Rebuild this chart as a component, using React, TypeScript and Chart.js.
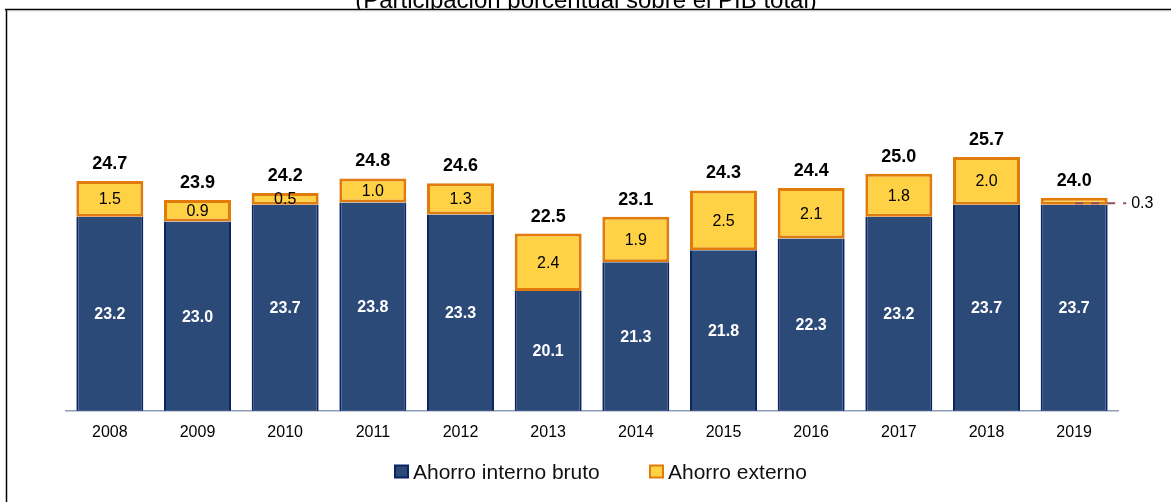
import React, { useEffect, useRef } from "react";
import { Chart, registerables } from "chart.js";

Chart.register(...registerables);

const years = ["2008", "2009", "2010", "2011", "2012", "2013", "2014", "2015", "2016", "2017", "2018", "2019"];
const ahorroInterno = [23.2, 23.0, 23.7, 23.8, 23.3, 20.1, 21.3, 21.8, 22.3, 23.2, 23.7, 23.7];
const ahorroExterno = [1.5, 0.9, 0.5, 1.0, 1.3, 2.4, 1.9, 2.5, 2.1, 1.8, 2.0, 0.3];
const totales = [24.7, 23.9, 24.2, 24.8, 24.6, 22.5, 23.1, 24.3, 24.4, 25.0, 25.7, 24.0];
const seriesNames = ["Ahorro interno bruto", "Ahorro externo"];
const titleText = "(Participación porcentual sobre el PIB total)";

const BLUE = "#2C4A77";
const BLUE_BORDER = "#0B2263";
const YELLOW = "#FFD145";
const ORANGE = "#E07B0C";
const FONT = "'Liberation Sans', Arial, sans-serif";

const framePlugin = {
  id: "frame",
  beforeDraw(chart: any) {
    const ctx = chart.ctx;
    ctx.save();
    ctx.fillStyle = "#000";
    ctx.font = `24px ${FONT}`;
    ctx.textAlign = "center";
    ctx.textBaseline = "alphabetic";
    ctx.fillText(titleText, 586, 8);
    ctx.fillStyle = "#fff";
    ctx.fillRect(6, 9, chart.width, chart.height);
    ctx.strokeStyle = "#000";
    ctx.lineWidth = 1.5;
    ctx.beginPath();
    ctx.moveTo(5, 9.5);
    ctx.lineTo(chart.width, 9.5);
    ctx.moveTo(6.5, 9);
    ctx.lineTo(6.5, chart.height);
    ctx.stroke();
    ctx.strokeStyle = "#C0C0C0";
    ctx.lineWidth = 1;
    ctx.beginPath();
    ctx.moveTo(7.5, 10.8);
    ctx.lineTo(chart.width, 10.8);
    ctx.stroke();
    ctx.restore();
  },
};

const labelsPlugin = {
  id: "barLabels",
  afterDatasetsDraw(chart: any) {
    const ctx = chart.ctx;
    const area = chart.chartArea;
    const m0 = chart.getDatasetMeta(0).data;
    const m1 = chart.getDatasetMeta(1).data;
    ctx.save();
    ctx.textAlign = "center";
    ctx.textBaseline = "middle";
    years.forEach((_, i) => {
      const b = m0[i];
      const top0 = b.y;
      const bot0 = Math.min(b.base, area.bottom);
      ctx.fillStyle = "#fff";
      ctx.font = `bold 16px ${FONT}`;
      ctx.fillText(ahorroInterno[i].toFixed(1), b.x, (top0 + bot0) / 2 + 1);

      const y = m1[i];
      const mid = (y.y + y.base) / 2;
      if (ahorroExterno[i] < 0.4) {
        ctx.strokeStyle = "#8E5060";
        ctx.lineWidth = 2;
        ctx.setLineDash([8, 8]);
        ctx.beginPath();
        ctx.moveTo(y.x + 1, mid + 2);
        ctx.lineTo(y.x + 52, mid + 2);
        ctx.stroke();
        ctx.setLineDash([]);
        ctx.fillStyle = "#000";
        ctx.font = `16px ${FONT}`;
        ctx.textAlign = "left";
        ctx.fillText(ahorroExterno[i].toFixed(1), y.x + 57, mid + 2);
        ctx.textAlign = "center";
      } else {
        ctx.fillStyle = "#000";
        ctx.font = `16px ${FONT}`;
        ctx.fillText(ahorroExterno[i].toFixed(1), y.x, mid + 1);
      }
      ctx.fillStyle = "#000";
      ctx.font = `bold 18px ${FONT}`;
      ctx.fillText(totales[i].toFixed(1), y.x, y.y - 17);
    });
    ctx.restore();
  },
  afterDraw(chart: any) {
    const ctx = chart.ctx;
    ctx.save();
    const items = [
      { x: 395, fill: BLUE, stroke: BLUE_BORDER, text: seriesNames[0] },
      { x: 650, fill: YELLOW, stroke: ORANGE, text: seriesNames[1] },
    ];
    items.forEach((it) => {
      ctx.fillStyle = it.fill;
      ctx.strokeStyle = it.stroke;
      ctx.lineWidth = 2;
      ctx.fillRect(it.x, 465.5, 13, 12);
      ctx.strokeRect(it.x, 465.5, 13, 12);
      ctx.fillStyle = "#111";
      ctx.font = `21px ${FONT}`;
      ctx.textAlign = "left";
      ctx.textBaseline = "middle";
      ctx.fillText(it.text, it.x + 18, 473);
    });
    ctx.restore();
  },
};

export default function App() {
  const ref = useRef<HTMLCanvasElement | null>(null);
  useEffect(() => {
    if (!ref.current) return;
    const chart = new Chart(ref.current, {
      type: "bar",
      data: {
        labels: years,
        datasets: [
          {
            label: seriesNames[0],
            data: ahorroInterno,
            backgroundColor: BLUE,
            borderColor: BLUE_BORDER,
            borderWidth: { left: 2, right: 2, top: 0, bottom: 0 } as any,
            borderSkipped: false,
            barPercentage: 0.764,
            categoryPercentage: 1,
          },
          {
            label: seriesNames[1],
            data: ahorroExterno,
            backgroundColor: YELLOW,
            borderColor: ORANGE,
            borderWidth: 3,
            borderSkipped: false,
            barPercentage: 0.764,
            categoryPercentage: 1,
          },
        ],
      },
      options: {
        animation: false,
        responsive: false,
        maintainAspectRatio: false,
        layout: { padding: { top: 54, left: 66, right: 53, bottom: 48 } },
        plugins: {
          legend: { display: false },
          tooltip: { enabled: false },
          title: { display: false },
        },
        scales: {
          x: {
            stacked: true,
            grid: { display: false, drawTicks: false },
            border: { display: true, color: "#8C9DB8", width: 1.5 },
            ticks: { color: "#000", font: { family: FONT, size: 16 }, padding: 12 },
          },
          y: {
            stacked: true,
            display: false,
            min: 15.1,
            max: 30,
          },
        },
      },
      plugins: [framePlugin, labelsPlugin],
    });
    return () => chart.destroy();
  }, []);
  return (
    <div style={{ position: "absolute", left: 0, top: 0, width: 1171, height: 502, background: "#fff" }}>
      <canvas ref={ref} width={1171} height={502} style={{ display: "block" }} />
    </div>
  );
}
